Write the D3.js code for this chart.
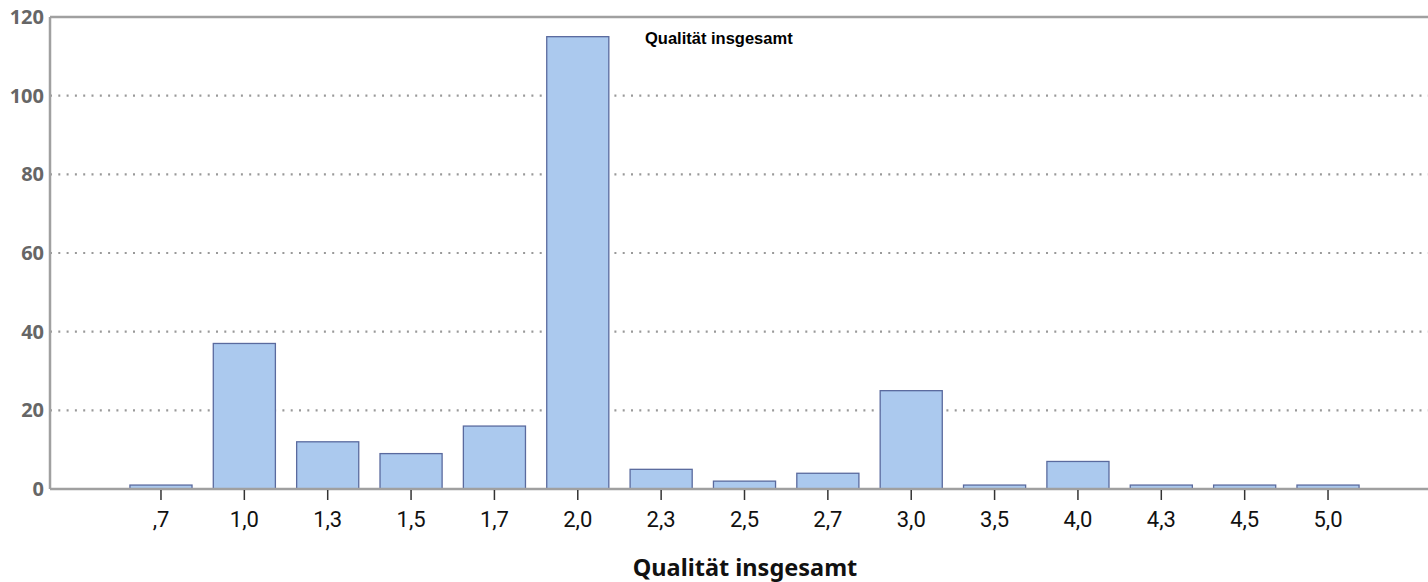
<!DOCTYPE html>
<html><head><meta charset="utf-8">
<script src="https://cdn.jsdelivr.net/npm/d3@7/dist/d3.min.js"></script>
<style>body{margin:0;background:#fff}svg{display:block}</style>
</head><body>
<svg id="c" width="1428" height="582"></svg>
<script>
const categories = [",7","1,0","1,3","1,5","1,7","2,0","2,3","2,5","2,7","3,0","3,5","4,0","4,3","4,5","5,0"];
const counts = [1,37,12,9,16,115,5,2,4,25,1,7,1,1,1];
const yTicks = [0,20,40,60,80,100,120];
const chartTitle = "Qualität insgesamt";
const xTitle = "Qualität insgesamt";

const svg = d3.select("#c");
const pLeft = 50, pRight = 1428, pTop = 17, pBottom = 489;
const x = d3.scaleBand().domain(categories).range([119.3, 1369.7]).paddingInner(0.255).paddingOuter(0.1275);
const y = d3.scaleLinear().domain([0,120]).range([pBottom, pTop]);

// gridlines
svg.append("g").selectAll("line").data(yTicks.filter(d=>d>0 && d<120)).join("line")
  .attr("x1", pLeft).attr("x2", pRight).attr("y1", d=>y(d)).attr("y2", d=>y(d))
  .attr("stroke","#999").attr("stroke-width",2.2).attr("stroke-dasharray","2,6.3");

// bars
svg.append("g").selectAll("rect").data(counts).join("rect")
  .attr("x",(d,i)=>x(categories[i])).attr("width",x.bandwidth())
  .attr("y",d=>y(d)).attr("height",d=>y(0)-y(d))
  .attr("fill","#abc9ee").attr("stroke","#5a6a9e").attr("stroke-width",1.3);

// frame lines
svg.append("line").attr("x1",pLeft).attr("x2",pRight).attr("y1",pTop).attr("y2",pTop).attr("stroke","#a0a0a0").attr("stroke-width",2.5);
svg.append("line").attr("x1",pLeft).attr("x2",pLeft).attr("y1",pTop).attr("y2",pBottom).attr("stroke","#a0a0a0").attr("stroke-width",2.5);
svg.append("line").attr("x1",pLeft).attr("x2",pRight).attr("y1",pBottom).attr("y2",pBottom).attr("stroke","#a0a0a0").attr("stroke-width",2.5);

// y axis labels
const ya = svg.append("g").attr("transform",`translate(${pLeft},0)`).call(d3.axisLeft(y).tickValues(yTicks).tickSize(0).tickPadding(6));
ya.select(".domain").remove();
ya.selectAll("text").attr("font-family","'Open Sans', sans-serif").attr("font-weight","bold").attr("font-size",20).attr("fill","#666");

// x axis
const xa = svg.append("g").attr("transform",`translate(0,${pBottom+1})`).call(d3.axisBottom(x).tickSize(10).tickPadding(11));
xa.select(".domain").remove();
xa.selectAll("line").attr("stroke","#333").attr("stroke-width",1.5);
xa.selectAll("text").attr("font-family","Roboto,'Noto Sans',sans-serif").attr("font-size",22).attr("fill","#111");

svg.append("text").attr("x",645).attr("y",44)
  .attr("font-family","'Liberation Sans',Arial,sans-serif").attr("font-weight","bold").attr("font-size",16.5).attr("fill","#000").text(chartTitle);

svg.append("text").attr("x",745).attr("y",576).attr("text-anchor","middle")
  .attr("font-family","'Noto Sans',sans-serif").attr("font-weight","bold").attr("font-size",23.5).attr("fill","#111").text(xTitle);
</script>
</body></html>
